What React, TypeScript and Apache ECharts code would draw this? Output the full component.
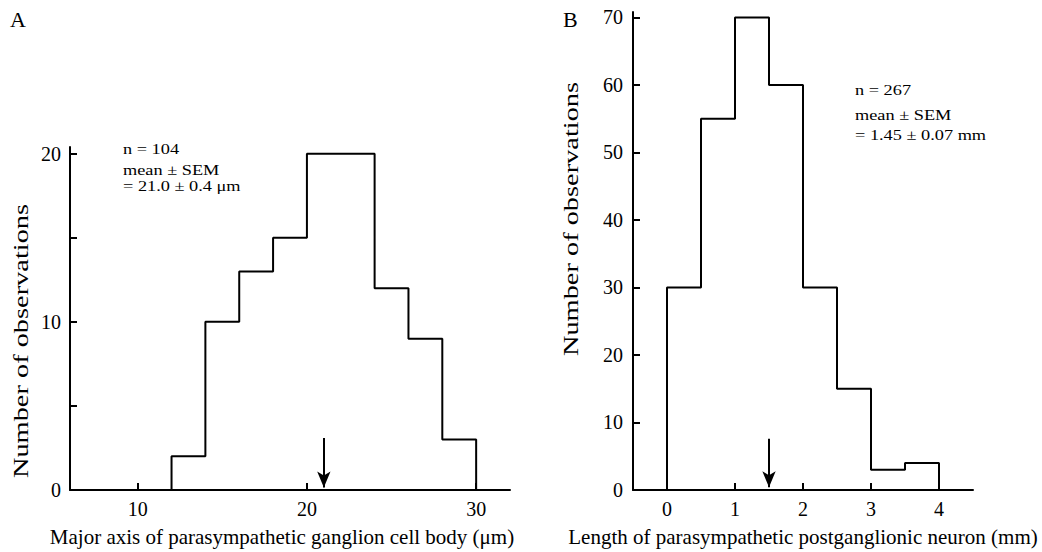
import React, { useEffect, useRef } from "react";
import * as echarts from "echarts";

const binEdgesA = [12, 14, 16, 18, 20, 22, 24, 26, 28, 30];
const countsA = [2, 10, 13, 15, 20, 20, 12, 9, 3];
const binEdgesB = [0, 0.5, 1, 1.5, 2, 2.5, 3, 3.5, 4];
const countsB = [30, 55, 70, 60, 30, 15, 3, 4];
const arrowA = 21.0;
const arrowB = 1.5;
const xTicksA = [10, 20, 30];
const yTicksA = [0, 5, 10, 15, 20];
const yLabelsA = [0, 10, 20];
const xTicksB = [0, 1, 2, 3, 4];
const yTicksB = [0, 10, 20, 30, 40, 50, 60, 70];

const FONT = "Liberation Serif";

function stepPoints(edges: number[], counts: number[]) {
  const pts: number[][] = [[edges[0], 0]];
  counts.forEach((c, i) => {
    pts.push([edges[i], c]);
    pts.push([edges[i + 1], c]);
  });
  pts.push([edges[edges.length - 1], 0]);
  return pts;
}

const axisLine = { show: true, onZero: false, lineStyle: { color: "#000", width: 2 } };
const tickStyle = (vals: number[]) => ({
  show: true,
  inside: true,
  length: 7,
  customValues: vals,
  lineStyle: { color: "#000", width: 2 },
});
const labelStyle = (vals: number[], margin: number) => ({
  show: true,
  customValues: vals,
  color: "#000",
  fontFamily: FONT,
  fontSize: 20,
  margin,
});

export default function App() {
  const ref = useRef<HTMLDivElement>(null);
  useEffect(() => {
    if (!ref.current) return;
    const chart = echarts.init(ref.current, null, { renderer: "svg" });
    const nameStyle = { color: "#000", fontFamily: FONT, fontSize: 21 };
    const arrowLine = (x: number, y0: number, y1: number) => ({
      silent: true,
      symbol: ["none", "arrow"],
      symbolSize: [10, 16],
      label: { show: false },
      lineStyle: { color: "#000", width: 2, type: "solid" },
      itemStyle: { color: "#000" },
      data: [[{ coord: [x, y0] }, { coord: [x, y1] }]],
    });
    const yTitle = (x: number, y: number) => ({
      type: "text",
      x,
      y,
      rotation: Math.PI / 2,
      scaleX: 1.29,
      style: {
        text: "Number of observations",
        fontFamily: FONT,
        fontSize: 22,
        fill: "#000",
        align: "center",
        verticalAlign: "middle",
      },
    });
    const note = (x: number, y: number, text: string, lineHeight: number) => ({
      type: "text",
      x,
      y,
      scaleX: 1.22,
      style: {
        text,
        fontFamily: FONT,
        fontSize: 15,
        lineHeight,
        fill: "#000",
        align: "left",
        verticalAlign: "top",
      },
    });
    chart.setOption({
      animation: false,
      backgroundColor: "#fff",
      grid: [
        { left: 70, right: 532, top: 147, bottom: 59 },
        { left: 633, right: 69, top: 12, bottom: 59 },
      ],
      xAxis: [
        {
          gridIndex: 0,
          type: "value",
          min: 6,
          max: 32,
          axisLine,
          axisTick: tickStyle(xTicksA),
          axisLabel: labelStyle(xTicksA, 9),
          splitLine: { show: false },
          name: "Major axis of parasympathetic ganglion cell body (μm)",
          nameLocation: "middle",
          nameGap: 36,
          nameTextStyle: { ...nameStyle, padding: [0, 16, 0, 0] },
        },
        {
          gridIndex: 1,
          type: "value",
          min: -0.5,
          max: 4.5,
          axisLine,
          axisTick: tickStyle(xTicksB),
          axisLabel: labelStyle(xTicksB, 9),
          splitLine: { show: false },
          name: "Length of parasympathetic postganglionic neuron (mm)",
          nameLocation: "middle",
          nameGap: 36,
          nameTextStyle: nameStyle,
        },
      ],
      yAxis: [
        {
          gridIndex: 0,
          type: "value",
          min: 0,
          max: 20.4,
          axisLine,
          axisTick: tickStyle(yTicksA),
          axisLabel: labelStyle(yLabelsA, 9),
          splitLine: { show: false },
        },
        {
          gridIndex: 1,
          type: "value",
          min: 0,
          max: 70.8,
          axisLine,
          axisTick: tickStyle(yTicksB),
          axisLabel: labelStyle(yTicksB, 10),
          splitLine: { show: false },
        },
      ],
      series: [
        {
          type: "line",
          xAxisIndex: 0,
          yAxisIndex: 0,
          data: stepPoints(binEdgesA, countsA),
          showSymbol: false,
          lineStyle: { color: "#000", width: 2 },
          markLine: arrowLine(arrowA, 3.1, 0.15),
        },
        {
          type: "line",
          xAxisIndex: 1,
          yAxisIndex: 1,
          data: stepPoints(binEdgesB, countsB),
          showSymbol: false,
          lineStyle: { color: "#000", width: 2 },
          markLine: arrowLine(arrowB, 7.6, 0.4),
        },
      ],
      graphic: [
        { type: "text", left: 10, top: 8, style: { text: "A", fontFamily: FONT, fontSize: 22, fill: "#000" } },
        { type: "text", left: 563, top: 8, style: { text: "B", fontFamily: FONT, fontSize: 22, fill: "#000" } },
        yTitle(20, 341),
        yTitle(570, 219),
        note(123, 141, "n = 104", 17),
        note(123, 162, "mean ± SEM\n= 21.0 ± 0.4 μm", 16),
        note(855, 82, "n = 267", 17),
        note(855, 105, "mean ± SEM\n= 1.45 ± 0.07 mm", 20),
      ],
    });
    return () => chart.dispose();
  }, []);
  return (
    <div
      ref={ref}
      style={{ position: "fixed", left: 0, top: 0, width: 1042, height: 552, background: "#fff" }}
    />
  );
}
